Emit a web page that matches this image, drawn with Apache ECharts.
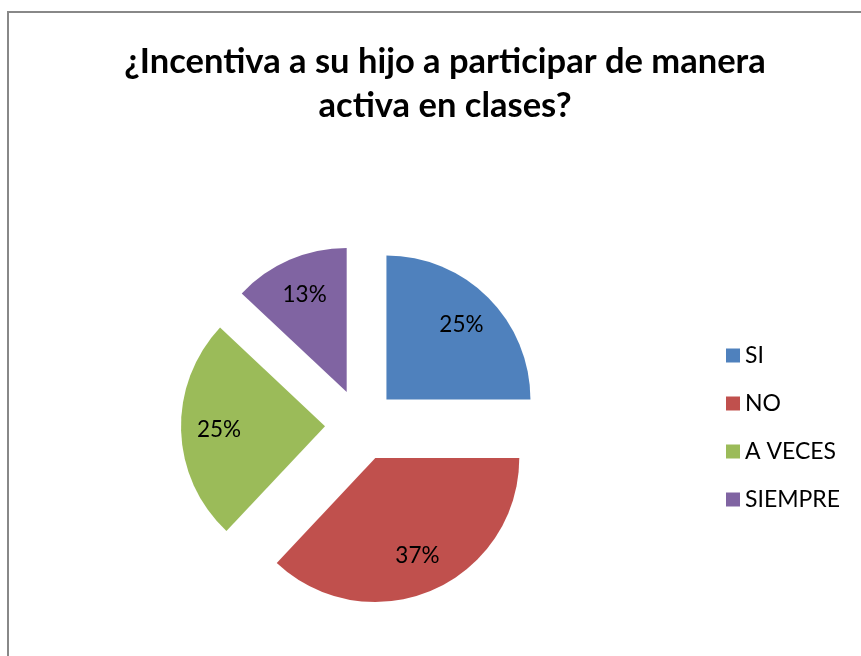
<!DOCTYPE html>
<html>
<head>
<meta charset="utf-8">
<script src="https://cdn.jsdelivr.net/npm/echarts@6/dist/echarts.min.js"></script>
<style>
  html, body { margin: 0; padding: 0; background: #fff; }
  #main { width: 861px; height: 656px; }
</style>
</head>
<body>
<div id="main"></div>
<script>
// respuestas y porcentajes
var categorias = ['SI', 'NO', 'A VECES', 'SIEMPRE'];
var porcentajes = [25, 37, 25, 13];
var colores = ['#4F81BD', '#C0504D', '#9BBB59', '#8064A2'];

var fuente = 'Lato, "Open Sans", sans-serif';

var chart = echarts.init(document.getElementById('main'));

var rebanadas = [], etiquetas = [], leyenda = [];
for (var i = 0; i < categorias.length; i++) {
    rebanadas.push({ name: categorias[i], value: porcentajes[i], selected: true, itemStyle: { color: colores[i] } });
    etiquetas.push({ name: categorias[i], value: porcentajes[i], selected: true });
    leyenda.push({ name: categorias[i], itemStyle: { color: colores[i] } });
}

var option = {
    backgroundColor: '#fff',
    animation: false,
    title: {
        text: '¿Incentiva a su hijo a participar de manera\nactiva en clases?',
        left: 440,
        top: 35,
        textAlign: 'center',
        textStyle: { fontFamily: fuente, fontWeight: 'bold', fontSize: 34.5, lineHeight: 44, color: '#000' }
    },
    legend: {
        orient: 'vertical',
        left: 721,
        top: 339,
        itemWidth: 14,
        itemHeight: 14,
        itemGap: 25,
        icon: 'rect',
        selectedMode: false,
        data: leyenda,
        textStyle: { fontFamily: fuente, fontSize: 23, color: '#000' }
    },
    graphic: [{
        type: 'rect',
        shape: { x: 8, y: 12, width: 900, height: 700 },
        style: { fill: 'none', stroke: '#888', lineWidth: 2 },
        silent: true
    }],
    series: [
        {
            type: 'pie',
            center: [361, 425],
            radius: [0, 144],
            startAngle: 90,
            selectedMode: 'multiple',
            selectedOffset: 36,
            silent: true,
            label: { show: false },
            labelLine: { show: false },
            select: { itemStyle: { borderWidth: 0 } },
            data: rebanadas
        },
        {
            // anillo invisible solo para colocar las etiquetas
            type: 'pie',
            center: [361, 425],
            radius: [62, 144],
            startAngle: 90,
            selectedMode: 'multiple',
            selectedOffset: 36,
            silent: true,
            itemStyle: { color: 'rgba(0,0,0,0)' },
            select: { itemStyle: { color: 'rgba(0,0,0,0)', borderWidth: 0 } },
            label: {
                show: true,
                position: 'inside',
                formatter: '{c}%',
                fontFamily: fuente,
                fontSize: 22.5,
                color: '#000'
            },
            labelLine: { show: false },
            data: etiquetas
        }
    ]
};

chart.setOption(option);
</script>
</body>
</html>
